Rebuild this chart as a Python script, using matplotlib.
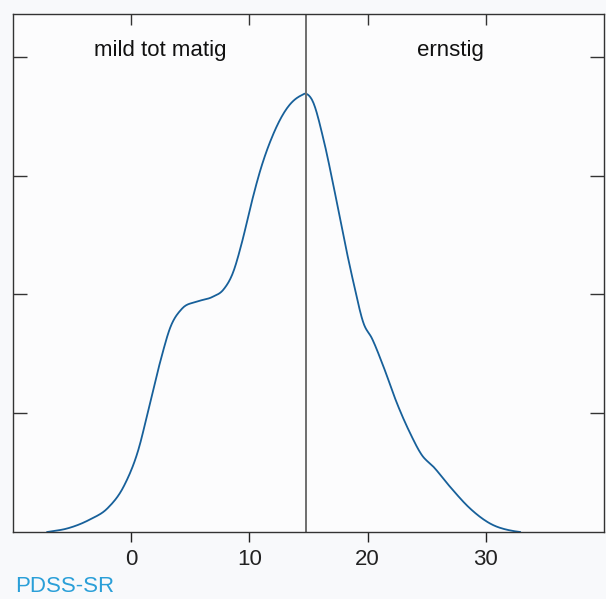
import matplotlib
matplotlib.use("Agg")
import matplotlib.pyplot as plt
import numpy as np

# density curve (x = PDSS-SR score, y = density)
score = [-7.1, -5.4, -3.5, -2.0, -0.6, 0.6, 1.6, 2.5, 3.3, 4.3, 5.6, 6.9,
         7.8, 8.6, 9.4, 10.1, 10.93, 12.05, 13.18, 14.31, 14.82, 15.3, 16.28,
         17.13, 17.97, 18.82, 19.66, 20.37, 21.35, 22.49, 23.61, 24.6, 25.58,
         26.99, 28.68, 30.37, 32.34, 32.9]
density = [0.0, 0.03, 0.105, 0.2, 0.39, 0.69, 1.09, 1.45, 1.72, 1.88, 1.94,
           1.98, 2.04, 2.18, 2.45, 2.74, 3.047, 3.356, 3.567, 3.671, 3.688,
           3.637, 3.3, 2.906, 2.485, 2.093, 1.756, 1.629, 1.39, 1.082, 0.829,
           0.646, 0.548, 0.379, 0.197, 0.071, 0.008, 0.0]
density = [d / 100 for d in density]

cutoff = 14.8
xticks = [0, 10, 20, 30]
yticks = [0.01, 0.02, 0.03, 0.04]
groups = ["mild tot matig", "ernstig"]


def smooth(x, y, n=15):
    # cubic hermite through the read points, only so the line is not jagged
    x = np.asarray(x, float); y = np.asarray(y, float)
    h = np.diff(x); d = np.diff(y) / h
    m = np.zeros_like(y)
    m[1:-1] = (d[:-1] * h[1:] + d[1:] * h[:-1]) / (h[:-1] + h[1:])
    m[0], m[-1] = d[0], d[-1]
    xs, ys = [], []
    t = np.linspace(0, 1, n, endpoint=False)
    for i in range(len(h)):
        h00 = 2*t**3 - 3*t**2 + 1; h10 = t**3 - 2*t**2 + t
        h01 = -2*t**3 + 3*t**2; h11 = t**3 - t**2
        xs.extend(x[i] + t * h[i])
        ys.extend(h00*y[i] + h10*h[i]*m[i] + h01*y[i+1] + h11*h[i]*m[i+1])
    xs.append(x[-1]); ys.append(y[-1])
    return np.array(xs), np.clip(ys, 0, None)


plt.rcParams["font.family"] = ["Liberation Sans", "DejaVu Sans"]

fig = plt.figure(figsize=(6.06, 5.99), dpi=100, facecolor="#f8f9fb")
ax = fig.add_axes([13/606, 1 - 532/599, 591/606, 518/599])
ax.set_facecolor("#fcfcfd")

sx, sy = smooth(score, density)
ax.plot(sx, sy, color="#17609a", lw=1.3)
ax.axvline(cutoff, color="#6e6e6e", lw=1.4)

ax.set_xlim(-10, 40)
ax.set_ylim(0, 0.0436)
ax.set_xticks(xticks)
ax.set_yticks(yticks)
ax.tick_params(axis="x", direction="out", length=7, width=1.0, colors="#222222",
               labelsize=16, pad=5, top=False)
ax.tick_params(axis="y", direction="in", length=10, width=1.0, colors="#333333",
               left=True, right=True, labelleft=False)
top = ax.secondary_xaxis("top")
top.set_xticks(xticks)
top.tick_params(direction="in", length=8, width=1.0, colors="#333333", labeltop=False)
for s in top.spines.values():
    s.set_visible(False)
for s in ax.spines.values():
    s.set_color("#333333")
    s.set_linewidth(1.0)

ax.text(0.25, 0.93, groups[0], transform=ax.transAxes, ha="center", va="center",
        fontsize=16, color="#111111")
ax.text(0.74, 0.93, groups[1], transform=ax.transAxes, ha="center", va="center",
        fontsize=16, color="#111111")

fig.text(15/606, 1 - 587/599, "PDSS-SR", ha="left", va="center", fontsize=16,
         color="#2a9fd8")

fig.savefig("out.png", dpi=100, facecolor=fig.get_facecolor())
